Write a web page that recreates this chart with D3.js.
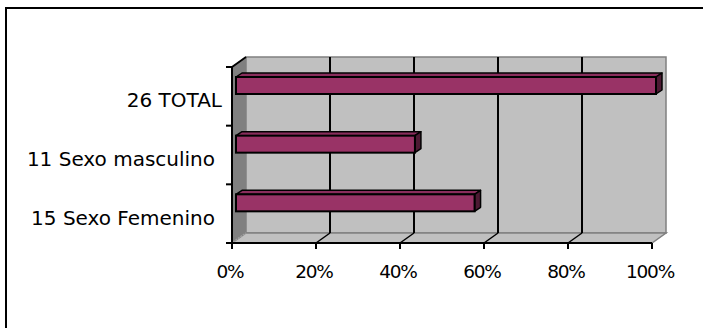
<!DOCTYPE html>
<html><head><meta charset="utf-8">
<script src="https://cdn.jsdelivr.net/npm/d3@7"></script>
<style>html,body{margin:0;padding:0;background:#fff;overflow:hidden}</style>
</head><body>
<script>
const categories = ["26 TOTAL", "11 Sexo masculino", "15 Sexo Femenino"];
const values = [1.0, 0.426, 0.568];
const tickValues = [0, 0.2, 0.4, 0.6, 0.8, 1.0];
const tickLabels = ["0%", "20%", "40%", "60%", "80%", "100%"];

const W = 703, H = 328;
const svg = d3.select("body").append("svg").attr("width", W).attr("height", H);
const font = "'DejaVu Sans', sans-serif";

// outer frame
svg.append("rect").attr("x", 6).attr("y", 8).attr("width", 720).attr("height", 340)
  .attr("fill", "#fff").attr("stroke", "#000").attr("stroke-width", 2);

const x = d3.scaleLinear().domain([0, 1]).range([232, 652]);
const y = d3.scaleBand().domain(categories).range([67, 243]).padding(0);
const DX = 14, DY = -10;
const x0 = x(0), x1 = x(1), yT = y.range()[0], yB = y.range()[1];

// back wall
svg.append("rect").attr("x", x0 + DX).attr("y", yT + DY).attr("width", x1 - x0).attr("height", yB - yT)
  .attr("fill", "#c0c0c0").attr("stroke", "#808080").attr("stroke-width", 1.5);
// floor
svg.append("polygon").attr("points", [[x0, yB], [x1, yB], [x1 + DX, yB + DY], [x0 + DX, yB + DY]].join(" "))
  .attr("fill", "#c0c0c0").attr("stroke", "#808080").attr("stroke-width", 1.5);
// left wall
svg.append("polygon").attr("points", [[x0, yT], [x0 + DX, yT + DY], [x0 + DX, yB + DY], [x0, yB]].join(" "))
  .attr("fill", "#808080");
svg.append("line").attr("x1", x0).attr("y1", yT).attr("x2", x0 + DX).attr("y2", yT + DY)
  .attr("stroke", "#000").attr("stroke-width", 2);
svg.append("line").attr("x1", x0 + 1).attr("y1", yB - 1).attr("x2", x0 + DX).attr("y2", yB + DY)
  .attr("stroke", "#a0a0a0").attr("stroke-width", 1.5).attr("stroke-dasharray", "2,1");

// gridlines on back wall and floor
tickValues.slice(1, -1).forEach(t => {
  svg.append("line").attr("x1", x(t) + DX).attr("y1", yT + DY).attr("x2", x(t) + DX).attr("y2", yB + DY)
    .attr("stroke", "#000").attr("stroke-width", 2);
  svg.append("line").attr("x1", x(t)).attr("y1", yB).attr("x2", x(t) + DX).attr("y2", yB + DY)
    .attr("stroke", "#000").attr("stroke-width", 1.5);
});

// bars
const bdx = 4, bdy = -3, bd = 6, bdv = -4, bh = 17, boff = 13;
const g = svg.append("g");
categories.forEach((c, i) => {
  const xa = x(0) + bdx, xb = x(values[i]) + bdx;
  const ya = y(c) + boff + bdy, yb = ya + bh;
  g.append("polygon").attr("points", [[xa, ya], [xa + bd, ya + bdv], [xb + bd, ya + bdv], [xb, ya]].join(" "))
    .attr("fill", "#8a2d5c").attr("stroke", "#000").attr("stroke-width", 1.5).attr("stroke-linejoin", "round");
  g.append("polygon").attr("points", [[xb, ya], [xb + bd, ya + bdv], [xb + bd, yb + bdv], [xb, yb]].join(" "))
    .attr("fill", "#4d1a33").attr("stroke", "#000").attr("stroke-width", 1.5).attr("stroke-linejoin", "round");
  g.append("rect").attr("x", xa).attr("y", ya).attr("width", xb - xa).attr("height", bh)
    .attr("fill", "#993366").attr("stroke", "#000").attr("stroke-width", 2);
});

// axes
svg.append("line").attr("x1", x0).attr("y1", yT).attr("x2", x0).attr("y2", yB + 6)
  .attr("stroke", "#000").attr("stroke-width", 2);
svg.append("line").attr("x1", x0 - 6).attr("y1", yB).attr("x2", x1).attr("y2", yB)
  .attr("stroke", "#000").attr("stroke-width", 2);
const yTicks = [yT].concat(categories.map(c => y(c) + y.bandwidth()));
yTicks.forEach(t => {
  svg.append("line").attr("x1", x0 - 6).attr("y1", t).attr("x2", x0).attr("y2", t)
    .attr("stroke", "#000").attr("stroke-width", 2);
});
tickValues.forEach((t, i) => {
  svg.append("text").attr("x", x(t) - 2).attr("y", 278).attr("text-anchor", "middle")
    .attr("font-family", font).attr("font-size", 18.5).attr("letter-spacing", -1.2).attr("fill", "#000")
    .text(tickLabels[i]);
  svg.append("line").attr("x1", x(t)).attr("y1", yB).attr("x2", x(t)).attr("y2", yB + 6)
    .attr("stroke", "#000").attr("stroke-width", 2);
});
categories.forEach((c, i) => {
  svg.append("text").attr("x", i === 0 ? 222 : 215).attr("y", y(c) + y.bandwidth() / 2 + 11).attr("text-anchor", "end")
    .attr("font-family", font).attr("font-size", 20).attr("letter-spacing", 0).attr("fill", "#000").text(c);
});
</script>
</body></html>
